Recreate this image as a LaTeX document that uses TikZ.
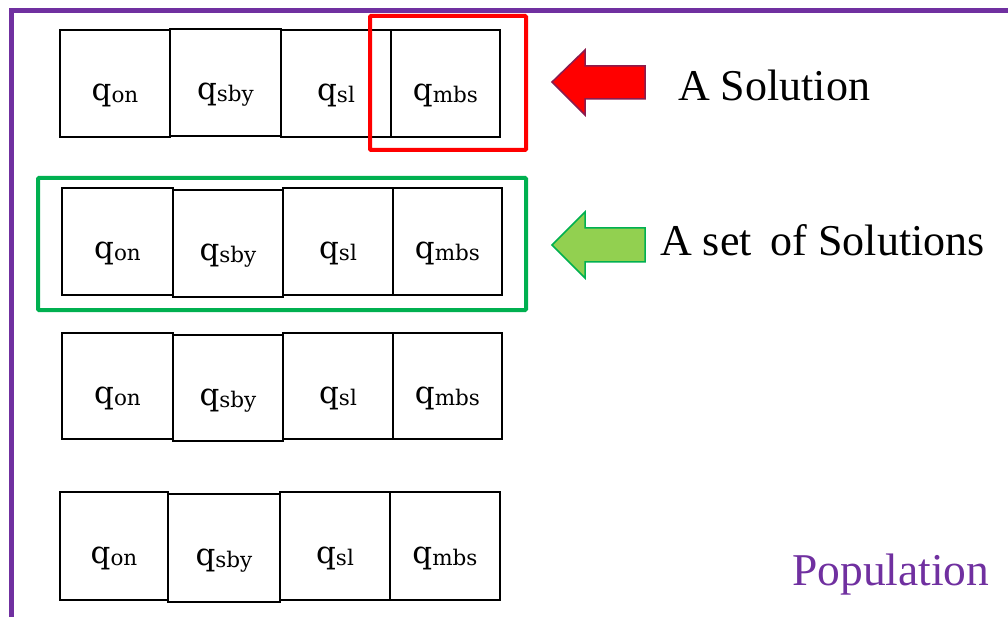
\documentclass[tikz,border=0pt]{standalone}
\usepackage{fontspec}
\setmainfont{Liberation Serif}
\newfontfamily\slabfont{DejaVu Serif}
\definecolor{popPurple}{HTML}{7030A0}
\definecolor{solRed}{HTML}{FF0000}
\definecolor{solRedEdge}{HTML}{8A1C4E}
\definecolor{setGreen}{HTML}{00B050}
\definecolor{setLight}{HTML}{92D050}
% a decision variable: q with a lowered subscript
\newcommand{\qvar}[1]{{\slabfont\fontsize{31}{31}\selectfont q\raisebox{-2pt}{\fontsize{21.5}{21.5}\selectfont #1}}}
\tikzset{
  cell/.style={draw=black, line width=2pt, rectangle, inner sep=0pt,
    text height=40pt, text depth=6pt},
  hilite/.style={line width=4pt, rounded corners=1pt},
  bigtext/.style={font=\fontsize{44}{44}\selectfont, inner sep=0pt, anchor=base west},
  fatarrow/.style={line width=1.5pt, line join=miter}
}
\begin{document}
\begin{tikzpicture}[x=1pt, y=-1pt]
\useasboundingbox (0,0) rectangle (1008,617);

% population frame (open to the right and bottom)
\draw[popPurple, line width=5pt] (11,625) -- (11,11) -- (1020,11);

% rows of four cells: name / left edges / top / bottom / shift of the second cell
\foreach \r/\xa/\xb/\xc/\xd/\xe/\yt/\yb/\dy in {
   1/60/170/281/391/500/30/137/-1,
   2/62/173/283/393/502/188/295/2,
   3/62/173/283/393/502/333/439/2,
   4/60/168/280/390/500/492/600/2}{
  \node[cell, minimum width={(\xb-\xa)*1pt}, minimum height={(\yb-\yt)*1pt}]
    (r\r on) at ({(\xa+\xb)/2}, {(\yt+\yb)/2}) {\qvar{on}};
  \node[cell, minimum width={(\xc-\xb)*1pt}, minimum height={(\yb-\yt)*1pt}]
    (r\r sby) at ({(\xb+\xc)/2}, {(\yt+\yb)/2+\dy}) {\qvar{sby}};
  \node[cell, minimum width={(\xd-\xc)*1pt}, minimum height={(\yb-\yt)*1pt}]
    (r\r sl) at ({(\xc+\xd)/2}, {(\yt+\yb)/2}) {\qvar{sl}};
  \node[cell, minimum width={(\xe-\xd)*1pt}, minimum height={(\yb-\yt)*1pt}]
    (r\r mbs) at ({(\xd+\xe)/2}, {(\yt+\yb)/2}) {\qvar{mbs}};
}

% one solution: a single cell
\draw[solRed, hilite] (370,16) rectangle (526,150);
% a set of solutions: a whole row
\draw[setGreen, hilite] (38,178) rectangle (526,310);

% pointer arrows
\draw[fatarrow, draw=solRedEdge, fill=solRed]
  (552,82) -- (585,50) -- (585,66) -- (645,66) -- (645,99) -- (585,99) -- (585,115) -- cycle;
\draw[fatarrow, draw=setGreen, fill=setLight]
  (552,245) -- (585,212) -- (585,228) -- (645,228) -- (645,262) -- (585,262) -- (585,278) -- cycle;

\node[bigtext] (lblsol) at (678,101) {A Solution};
\node[bigtext] (lblset) at (660,256) {A set\hspace{8pt} of Solutions};
\node[bigtext, text=popPurple, font=\fontsize{45.5}{45.5}\selectfont] (lblpop) at (792,585) {Population};
\end{tikzpicture}
\end{document}
